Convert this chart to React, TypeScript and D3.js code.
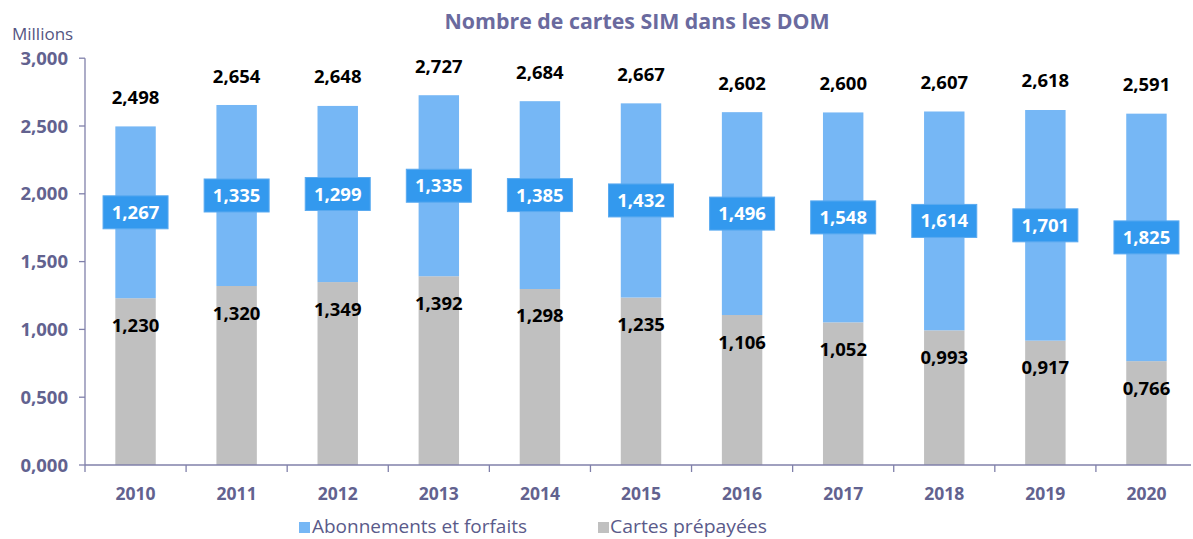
import React from "react";
import * as d3 from "d3";

const years = ["2010","2011","2012","2013","2014","2015","2016","2017","2018","2019","2020"];
const prepaid = [1.230,1.320,1.349,1.392,1.298,1.235,1.106,1.052,0.993,0.917,0.766];
const subscriptions = [1.267,1.335,1.299,1.335,1.385,1.432,1.496,1.548,1.614,1.701,1.825];
const totals = [2.498,2.654,2.648,2.727,2.684,2.667,2.602,2.600,2.607,2.618,2.591];
const yTicks = [0,0.5,1,1.5,2,2.5,3];

const W = 1193, H = 539;
const left = 85, right = 1197, top = 58.2, bottom = 465;
const font = "'Open Sans', Lato, sans-serif";
const axisColor = "#8080aa";
const tickColor = "#62628f";

const fmt = (v: number) => v.toFixed(3).replace(".", ",");

export default function App() {
  const x = d3.scaleBand<string>().domain(years).range([left, right]).paddingInner(0.6).paddingOuter(0.3);
  const xb = d3.scaleBand<string>().domain(years).range([left, right]);
  const y = d3.scaleLinear().domain([0, 3]).range([bottom, top]);
  const bw = x.bandwidth();
  return (
    <svg width={W} height={H} style={{ position: "absolute", left: 0, top: 0, background: "#fff" }} fontFamily={font}>
      <text x={637} y={29} textAnchor="middle" fontSize={21} fontWeight="bold" fill="#6a6a9e" textLength={385} lengthAdjust="spacingAndGlyphs">Nombre de cartes SIM dans les DOM</text>
      <text x={12} y={40} fontSize={17} fill="#555582">Millions</text>
      {years.map((yr, i) => {
        const x0 = x(yr)!;
        const cx = x0 + bw / 2;
        const p = prepaid[i], s = subscriptions[i];
        const midBlue = y(p + s / 2);
        return (
          <g key={yr}>
            <rect x={x0} y={y(p)} width={bw} height={y(0) - y(p)} fill="#c0c0c0" />
            <rect x={x0} y={y(p + s)} width={bw} height={y(p) - y(p + s)} fill="#76b7f5" />
            <rect x={cx - 32.5} y={midBlue - 16.5} width={65} height={33} fill="#3399ee" stroke="#5aaaf0" strokeWidth={1} />
            <text x={cx} y={midBlue + 6.5} textAnchor="middle" fontSize={18.5} fontWeight="bold" fill="#fff">{fmt(s)}</text>
            <text x={cx} y={y(p) + 33.5} textAnchor="middle" fontSize={18.5} fontWeight="bold" fill="#000">{fmt(p)}</text>
            <text x={cx} y={y(totals[i]) - 22.5} textAnchor="middle" fontSize={18.5} fontWeight="bold" fill="#000">{fmt(totals[i])}</text>
            <text x={xb(yr)! + xb.bandwidth() / 2} y={499.5} textAnchor="middle" fontSize={17.5} fontWeight="bold" fill={tickColor}>{yr}</text>
          </g>
        );
      })}
      <line x1={left} x2={left} y1={y(3)} y2={bottom} stroke={axisColor} strokeWidth={1.3} />
      {yTicks.map(t => (
        <g key={t}>
          <line x1={left - 6} x2={left} y1={y(t)} y2={y(t)} stroke={axisColor} strokeWidth={1.3} />
          <text x={68} y={y(t) + 6.5} textAnchor="end" fontSize={18.5} fontWeight="bold" fill={tickColor}>{fmt(t)}</text>
        </g>
      ))}
      <line x1={left} x2={1191} y1={bottom} y2={bottom} stroke={axisColor} strokeWidth={1.3} />
      {years.map(yr => (
        <line key={yr} x1={xb(yr)!} x2={xb(yr)!} y1={bottom} y2={bottom + 7} stroke={axisColor} strokeWidth={1.3} />
      ))}
      <rect x={299} y={522} width={11} height={11} fill="#76b7f5" />
      <text x={312} y={533} fontSize={18} fill="#5a5a8a" textLength={215} lengthAdjust="spacingAndGlyphs">Abonnements et forfaits</text>
      <rect x={598} y={522} width={11} height={11} fill="#c0c0c0" />
      <text x={610} y={533} fontSize={18} fill="#5a5a8a" textLength={157} lengthAdjust="spacingAndGlyphs">Cartes prépayées</text>
    </svg>
  );
}
